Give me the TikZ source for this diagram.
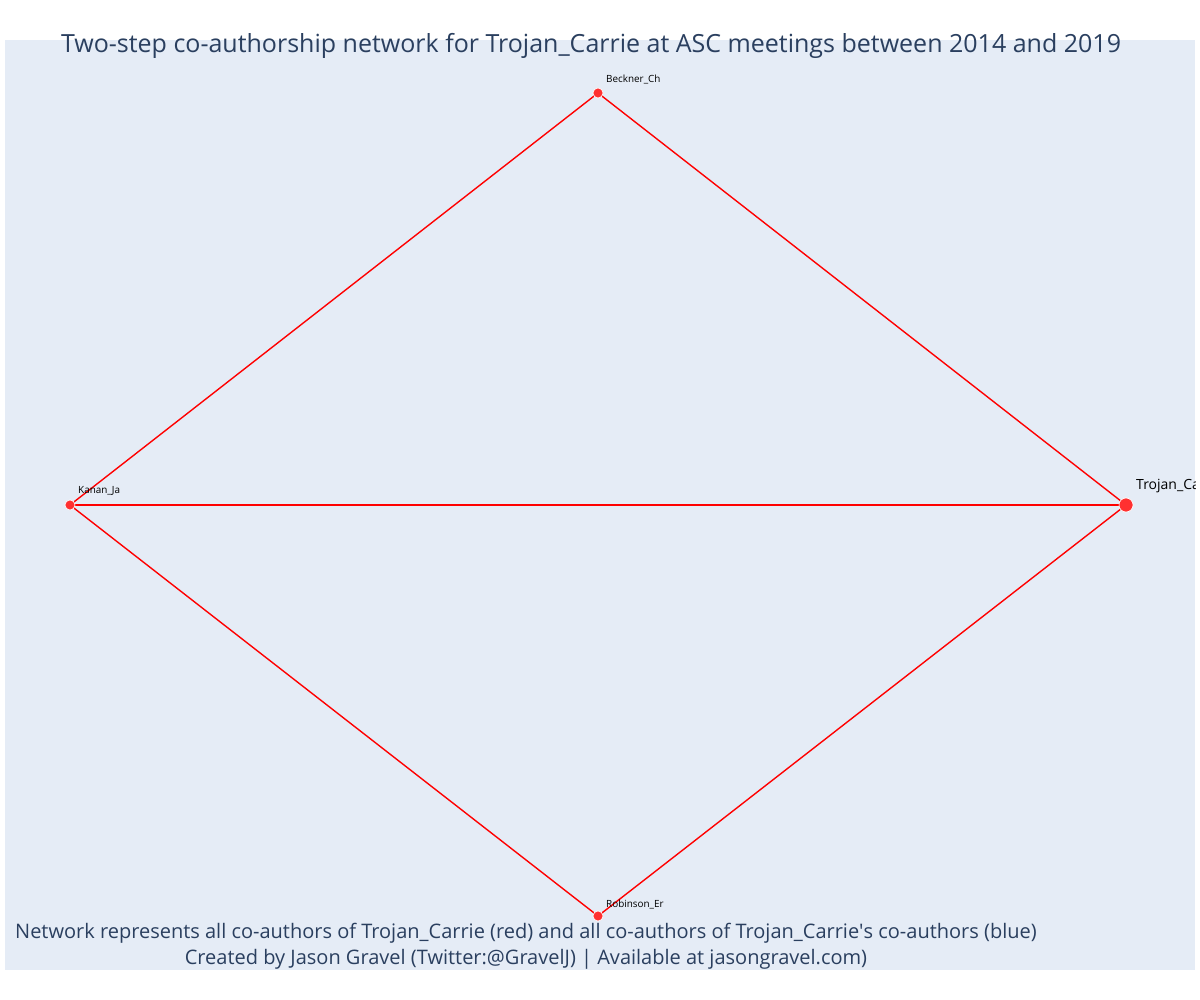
\documentclass[tikz,border=0pt]{standalone}
\usepackage{fontspec}
\setmainfont{Open Sans}
\definecolor{plotbg}{HTML}{E5ECF6}
\definecolor{titlecol}{HTML}{2A3F5F}
\definecolor{edgecol}{HTML}{FF0000}
\definecolor{nodecol}{HTML}{FF3030}
\tikzset{
  author/.style={circle, fill=nodecol, draw=white, line width=0.6pt, inner sep=0pt, minimum size=10pt},
  focal/.style={author, minimum size=14pt},
  coauth/.style={draw=edgecol, line width=1.4pt},
  namelab/.style={anchor=west, inner sep=0pt, font=\fontsize{9.9}{11}\selectfont, text=black},
  caption/.style={text=titlecol, inner sep=0pt}
}
\begin{document}
\begin{tikzpicture}[x=1pt, y=-1pt]
      \useasboundingbox (0,0) rectangle (1200,1000);
      \fill[plotbg] (5,40) rectangle (1195,970);
      \begin{scope}
      \clip (5,40) rectangle (1195,970);
      % co-authors
      \node[author] (B) at (598,93) {};
      \node[author] (K) at (70,505) {};
      \node[author] (R) at (598,916) {};
      \node[focal] (T) at (1126,505) {};
      \draw[coauth] (K.center) -- (B.center);
      \draw[coauth] (K.center) -- (T.center);
      \draw[coauth] (K.center) -- (R.center);
      \draw[coauth] (B.center) -- (T.center);
      \draw[coauth] (R.center) -- (T.center);
      \node[author] at (B) {};
      \node[author] at (K) {};
      \node[author] at (R) {};
      \node[focal] at (T) {};
      \node[namelab] (Blab) at (606,80) {Beckner\_Ch};
      \node[namelab] (Klab) at (78,491) {Kanan\_Ja};
      \node[namelab] (Rlab) at (606,904) {Robinson\_Er};
      \node[namelab, font=\fontsize{14}{15}\selectfont] (Tlab) at (1136,486) {Trojan\_Carrie};
      \end{scope}
      \node[caption, font=\fontsize{25}{27}\selectfont] (title) at (591,46) {Two-step co-authorship network for Trojan\_Carrie at ASC meetings between 2014 and 2019};
      \node[caption, font=\fontsize{20}{26}\selectfont, align=center] (note) at (526,946)
        {Network represents all co-authors of Trojan\_Carrie (red) and all co-authors of Trojan\_Carrie\textquotesingle s co-authors (blue)\\
         Created by Jason Gravel (Twitter:@GravelJ) | Available at jasongravel.com)};
    \end{tikzpicture}
\end{document}
